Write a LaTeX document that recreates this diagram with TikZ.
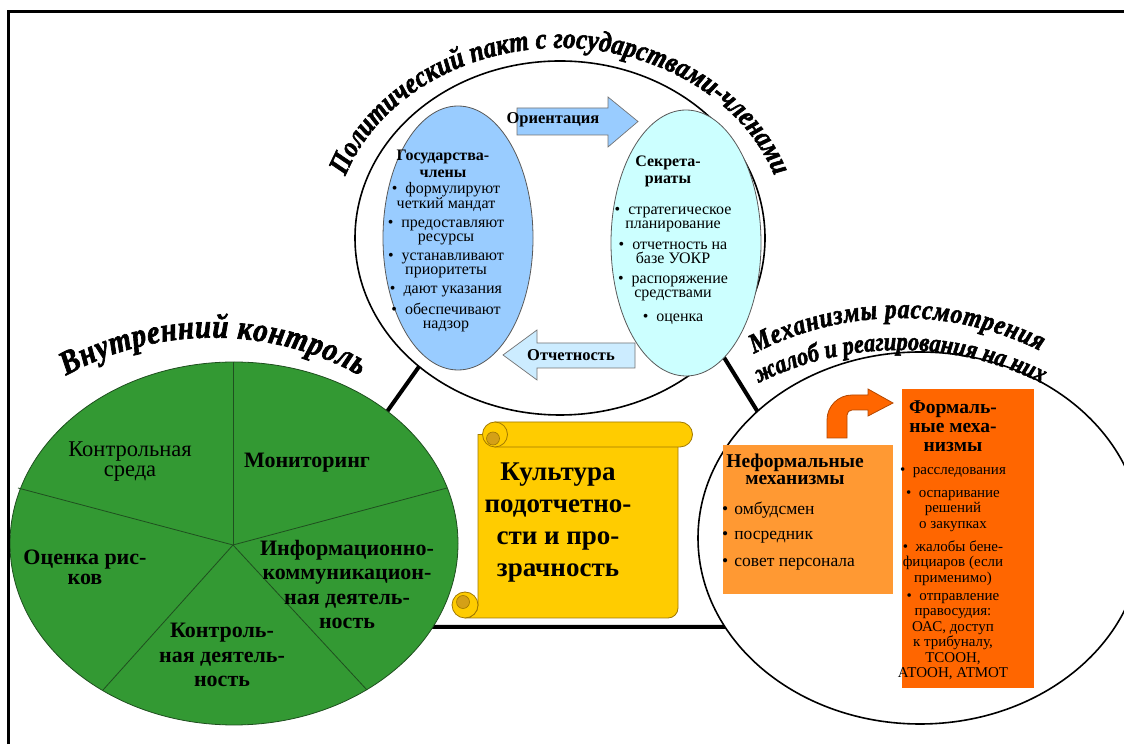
\documentclass[tikz,border=0pt]{standalone}
\usepackage{fontspec}
\setmainfont{Liberation Serif}
\newfontfamily\heavyit{Liberation Serif}[BoldItalicFeatures={FakeBold=2,FakeStretch=0.86}]
\usetikzlibrary{shapes.geometric,decorations.text}
\definecolor{pieg}{HTML}{339933}
\definecolor{pieline}{HTML}{1F4F1F}
\definecolor{blueell}{HTML}{99CCFF}
\definecolor{cyanell}{HTML}{CCFFFF}
\definecolor{arrblue}{HTML}{99CCFF}
\definecolor{arrcyan}{HTML}{CCECFF}
\definecolor{scrollc}{HTML}{FFCC00}
\definecolor{scrolld}{HTML}{D4A017}
\definecolor{scrollo}{HTML}{A07800}
\definecolor{orL}{HTML}{FF9933}
\definecolor{orD}{HTML}{FF6600}
\definecolor{orE}{HTML}{B34700}
\newcommand\ttlA{\heavyit\bfseries\itshape\fontsize{29}{34}\selectfont}
\newcommand\ttlB{\heavyit\bfseries\itshape\fontsize{33.5}{38}\selectfont}
\newcommand\ttlC{\heavyit\bfseries\itshape\fontsize{27.5}{32}\selectfont}
\newcommand\ttlD{\heavyit\bfseries\itshape\fontsize{26}{30}\selectfont}
\begin{document}
\begin{tikzpicture}[x=1pt,y=1pt,
  tri/.style={line width=4pt, line join=round},
  bigcirc/.style={ellipse, draw=black, line width=1.6pt, fill=white, inner sep=0},
  divider/.style={draw=pieline, line width=0.8pt},
  ptext/.style={font=\fontsize{22}{24.5}\selectfont\bfseries, align=center, inner sep=0},
  itemtxt/.style={font=\fontsize{16}{14}\selectfont, align=center, inner sep=0},
  headtxt/.style={font=\fontsize{16}{17}\selectfont\bfseries, align=center, inner sep=0},
  arrlbl/.style={font=\fontsize{16.5}{18}\selectfont\bfseries, inner sep=0},
  nftxt/.style={font=\fontsize{17.5}{18}\selectfont, anchor=west, inner sep=0},
  ftxt/.style={font=\fontsize{15}{15.5}\selectfont, align=center, inner sep=0},
  fhead/.style={font=\fontsize{19.5}{19}\selectfont\bfseries, align=center, inner sep=0},
  scrollst/.style={fill=scrollc, draw=scrollo, line width=0.8pt},
  curled/.style={fill=scrolld, draw=scrollo, line width=0.6pt},
  titlepath/.style={decorate, decoration={text along path, text align=fit to path, text={#1}}}
]
\useasboundingbox (0,0) rectangle (1124,744);

% connecting triangle
\coordinate (ta) at (585,611);
\coordinate (tb) at (234,117);
\coordinate (tc) at (891,117);
\draw[tri] (ta) -- (tb) -- (tc) -- cycle;

% three big shapes
\node[bigcirc, minimum width=410, minimum height=354] (top) at (560,506) {};
\node[ellipse, fill=pieg, draw=pieline, line width=0.8pt, inner sep=0,
      minimum width=448, minimum height=363] (pie) at (234,200.5) {};
\node[bigcirc, minimum width=444, minimum height=372] (right) at (920,206) {};

% pie dividers
\coordinate (pc) at (233,199);
\coordinate (pd1) at (233,382);
\coordinate (pd2) at (18,256);
\coordinate (pd3) at (447,256);
\coordinate (pd4) at (103,54);
\coordinate (pd5) at (367,54);
\foreach \p in {pd1,pd2,pd3,pd4,pd5} \draw[divider] (pc) -- (\p);

% pie labels
\node[ptext, font=\fontsize{22.5}{20}\selectfont] (p1) at (130,282) {Контрольная\\среда};
\node[ptext] (p2) at (307,281) {Мониторинг};
\node[ptext, font=\fontsize{22}{20}\selectfont\bfseries] (p3) at (85,177) {Оценка рис-\\ков};
\node[ptext] (p4) at (347,159.5) {Информационно-\\коммуникацион-\\ная деятель-\\ность};
\node[ptext] (p5) at (222,89) {Контроль-\\ная деятель-\\ность};

% inner ellipses of the top circle
\node[ellipse, fill=blueell, draw=black!65, line width=0.8pt, inner sep=0,
      minimum width=150, minimum height=264] (gos) at (458,506) {};
\node[ellipse, fill=cyanell, draw=black!65, line width=0.8pt, inner sep=0,
      minimum width=150, minimum height=266] (sec) at (686,501) {};

\node[headtxt] (gh) at (443,580.5) {Государства-\\члены};
\node[itemtxt] (g1) at (446,547) {\textbullet\ \ формулируют\\четкий мандат};
\node[itemtxt] (g2) at (446,512) {\textbullet\ \ предоставляют\\ресурсы};
\node[itemtxt] (g3) at (446,479) {\textbullet\ \ устанавливают\\приоритеты};
\node[itemtxt] (g4) at (446,453) {\textbullet\ \ дают указания};
\node[itemtxt] (g5) at (446,427) {\textbullet\ \ обеспечивают\\надзор};

\node[headtxt] (sh) at (668,572.5) {Секрета-\\риаты};
\node[itemtxt] (s1) at (673,525) {\textbullet\ \ стратегическое\\планирование};
\node[itemtxt] (s2) at (673,491) {\textbullet\ \ отчетность на\\базе УОКР};
\node[itemtxt] (s3) at (673,456) {\textbullet\ \ распоряжение\\средствами};
\node[itemtxt] (s4) at (673,425) {\textbullet\ \ оценка};

% block arrows
\draw[fill=arrblue, draw=black!55, line width=0.7pt]
  (517,636) -- (608,636) -- (608,647) -- (638,622.5) -- (608,597) -- (608,609) -- (517,609) -- cycle;
\node[arrlbl] (ori) at (553,624) {Ориентация};
\draw[fill=arrcyan, draw=black!55, line width=0.7pt]
  (503,389) -- (537,414) -- (537,401) -- (635,401) -- (635,376) -- (537,376) -- (537,364) -- cycle;
\node[arrlbl] (otc) at (571,389) {Отчетность};

% scroll
\path[scrollst] (478,309.5) -- (478,139) arc[start angle=0,end angle=-90,radius=13]
  -- (668,126) arc[start angle=-90,end angle=0,radius=10] -- (678,309.5) -- cycle;
\path[scrollst] (465,139) circle[radius=13];
\path[curled] (463,142) circle[radius=6.5];
\path[scrollst] (495,322) -- (680,322) arc[start angle=90,end angle=-90,radius=12.5] -- (495,297) -- cycle;
\path[scrollst] (495,309.5) circle[radius=12.5];
\path[curled] (493,305.5) circle[radius=6.5];
\node[font=\fontsize{27}{32}\selectfont\bfseries, align=center, inner sep=0] (cul) at (558,221)
  {Культура\\подотчетно-\\сти и про-\\зрачность};

% right circle content
\node[fill=orL, inner sep=0, minimum width=170, minimum height=149] (nfbox) at (808,224.5) {};
\node[font=\fontsize{19.5}{17}\selectfont\bfseries, align=center, inner sep=0] (nfh) at (795,274.5) {Неформальные\\механизмы};
\node[nftxt] (n1) at (722,234) {\textbullet\hspace{6pt}омбудсмен};
\node[nftxt] (n2) at (722,207) {\textbullet\hspace{6pt}посредник};
\node[nftxt] (n3) at (722,180) {\textbullet\hspace{6pt}совет персонала};

\node[fill=orD, inner sep=0, minimum width=132, minimum height=299] (fbox) at (968,205.5) {};
\node[fhead] (fh) at (953,318) {Формаль-\\ные меха-\\низмы};
\node[ftxt] (f1) at (953,271) {\textbullet\ \ расследования};
\node[ftxt] (f2) at (953,233) {\textbullet\ \ оспаривание\\решений\\о закупках};
\node[ftxt] (f3) at (953,181) {\textbullet\ \ жалобы бене-\\фициаров (если\\применимо)};
\node[ftxt] (f4) at (953,107.5) {\textbullet\ \ отправление\\правосудия:\\ОАС, доступ\\к трибуналу,\\ТСООН,\\АТООН, АТМОТ};

% bent arrow
\draw[fill=orD, draw=orE, line width=0.8pt]
  (827,306) -- (827,324) arc[start angle=180,end angle=90,radius=25]
  -- (868,349) -- (868,355) -- (893,341) -- (868,328) -- (868,334) -- (852,334)
  arc[start angle=90,end angle=180,radius=5] -- (847,306) -- cycle;

% curved titles
\path[titlepath={|\ttlA|Политический пакт с государствами-членами}]
  (560,506) ++(161:227 and 190) arc[start angle=161, end angle=19, x radius=227, y radius=190];
\path[titlepath={|\ttlB|Внутренний контроль}]
  (213,103.4) ++(119:303) arc[start angle=119, end angle=61, radius=303];
\path[titlepath={|\ttlC|Механизмы рассмотрения}]
  (900,110) ++(117.5:316) arc[start angle=117.5, end angle=63.7, radius=316];
\path[titlepath={|\ttlD|жалоб и реагирования на них}]
  (900,75) ++(116.3:319) arc[start angle=116.3, end angle=63.8, radius=319];

% frame
\draw[line width=3pt] (8,0) -- (8,732) -- (1124,732);
\end{tikzpicture}
\end{document}
